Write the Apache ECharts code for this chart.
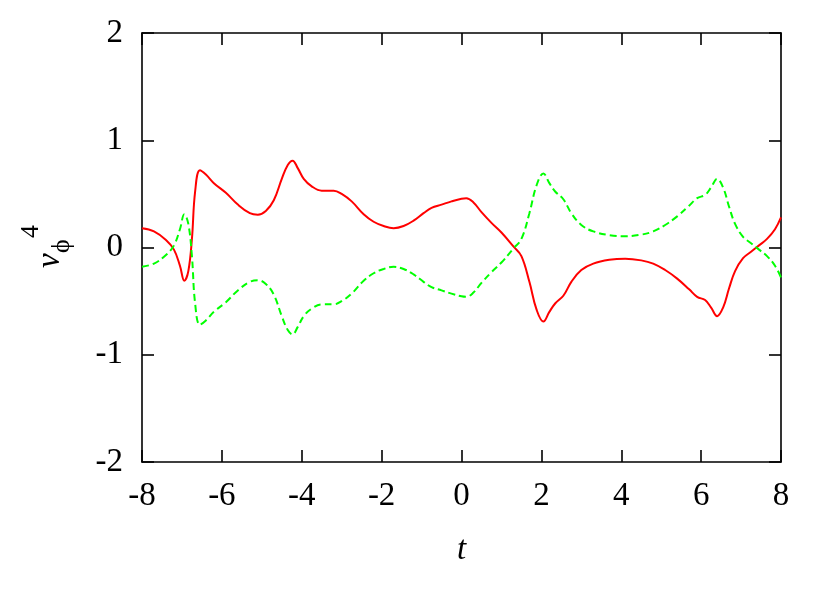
<!DOCTYPE html>
<html>
<head>
<meta charset="utf-8">
<title>v_phi^4</title>
<script src="https://cdn.jsdelivr.net/npm/echarts@6/dist/echarts.min.js"></script>
<style>
  html, body { margin: 0; padding: 0; background: #fff; }
  #chart { width: 830px; height: 594px; }
</style>
</head>
<body>
<div id="chart"></div>
<script>
// sample times
const tValues = [
  -8, -7.7, -7.4, -7.2, -7.05, -6.94, -6.84, -6.75, -6.67, -6.55, -6.4, -6.2,
  -5.9, -5.6, -5.3, -5.1, -4.9, -4.7, -4.5, -4.35, -4.23, -4.1, -3.95, -3.75,
  -3.5, -3.2, -3.0, -2.75, -2.45, -2.2, -1.95, -1.7, -1.45, -1.2, -0.95, -0.75,
  -0.5, -0.25, 0, 0.12, 0.3, 0.5, 0.75, 1.0, 1.3, 1.5, 1.7, 1.88, 2.05, 2.2,
  2.35, 2.55, 2.75, 3.0, 3.3, 3.7, 4.1, 4.5, 4.8, 5.1, 5.4, 5.7, 5.9, 6.1,
  6.25, 6.4, 6.55, 6.7, 6.85, 7.05, 7.25, 7.45, 7.65, 7.85, 8
]

// solid red curve
const redValues = [
  0.18, 0.15, 0.07, -0.02, -0.17, -0.31, -0.22, 0.08, 0.52, 0.72, 0.68, 0.60,
  0.51, 0.40, 0.32, 0.305, 0.34, 0.44, 0.64, 0.77, 0.81, 0.74, 0.64, 0.57,
  0.53, 0.53, 0.50, 0.43, 0.31, 0.24, 0.20, 0.18, 0.20, 0.25, 0.32, 0.37,
  0.40, 0.43, 0.455, 0.46, 0.42, 0.33, 0.23, 0.14, 0.01, -0.08, -0.32, -0.58, -0.69, -0.60,
  -0.52, -0.45, -0.32, -0.21, -0.15, -0.115, -0.105, -0.12, -0.15, -0.21, -0.29, -0.39, -0.46, -0.49,
  -0.56, -0.64, -0.56, -0.38, -0.22, -0.10, -0.04, 0.02, 0.08, 0.17, 0.28
]

// dashed green curve
const greenValues = [
  -0.18, -0.15, -0.07, 0.02, 0.17, 0.31, 0.22, -0.08, -0.52, -0.72, -0.68, -0.60,
  -0.51, -0.40, -0.32, -0.305, -0.34, -0.44, -0.64, -0.77, -0.81, -0.74, -0.64, -0.57,
  -0.53, -0.53, -0.50, -0.43, -0.31, -0.24, -0.20, -0.18, -0.20, -0.25, -0.32, -0.37,
  -0.40, -0.43, -0.455, -0.46, -0.42, -0.33, -0.23, -0.14, -0.01, 0.08, 0.32, 0.58, 0.69, 0.60,
  0.52, 0.45, 0.32, 0.21, 0.15, 0.115, 0.105, 0.12, 0.15, 0.21, 0.29, 0.39, 0.46, 0.49,
  0.56, 0.64, 0.56, 0.38, 0.22, 0.10, 0.04, -0.02, -0.08, -0.17, -0.28
]

const xTicks = [-8, -6, -4, -2, 0, 2, 4, 6, 8]
const yTicks = [-2, -1, 0, 1, 2]

const font = 'Liberation Serif'

const chart = echarts.init(document.getElementById('chart'))

const pairs = vals => tValues.map((t, i) => [t, vals[i]])

const frameLine = { show: true, onZero: false, lineStyle: { color: '#000', width: 1.6 } }
const innerTick = { show: true, inside: true, length: 12, lineStyle: { color: '#000', width: 1.6 } }

chart.setOption({
  animation: false,
  backgroundColor: '#fff',
  grid: { left: 142, right: 49, top: 33, bottom: 132, containLabel: false },
  xAxis: [
    {
      type: 'value',
      min: xTicks[0],
      max: xTicks[xTicks.length - 1],
      interval: 2,
      position: 'bottom',
      axisLine: frameLine,
      axisTick: innerTick,
      splitLine: { show: false },
      axisLabel: { color: '#000', fontFamily: font, fontSize: 33, margin: 18 },
      name: 't',
      nameLocation: 'middle',
      nameGap: 72,
      nameTextStyle: { color: '#000', fontFamily: font, fontSize: 33, fontStyle: 'italic' }
    },
    {
      type: 'value',
      min: xTicks[0],
      max: xTicks[xTicks.length - 1],
      interval: 2,
      position: 'top',
      axisLine: frameLine,
      axisTick: innerTick,
      splitLine: { show: false },
      axisLabel: { show: false }
    }
  ],
  yAxis: [
    {
      type: 'value',
      min: yTicks[0],
      max: yTicks[yTicks.length - 1],
      interval: 1,
      position: 'left',
      axisLine: frameLine,
      axisTick: innerTick,
      splitLine: { show: false },
      axisLabel: { color: '#000', fontFamily: font, fontSize: 33, margin: 19 }
    },
    {
      type: 'value',
      min: yTicks[0],
      max: yTicks[yTicks.length - 1],
      interval: 1,
      position: 'right',
      axisLine: frameLine,
      axisTick: innerTick,
      splitLine: { show: false },
      axisLabel: { show: false }
    }
  ],
  graphic: [
    {
      type: 'group',
      x: 50,
      y: 268,
      rotation: Math.PI / 2,
      children: [
        {
          type: 'text',
          x: 0,
          y: 0,
          style: { text: 'v', font: 'italic 33px "Liberation Serif"', fill: '#000', textAlign: 'left', textVerticalAlign: 'middle' }
        },
        {
          type: 'text',
          x: 15,
          y: 12,
          style: { text: 'ϕ', font: '26px "Liberation Serif"', fill: '#000', textAlign: 'left', textVerticalAlign: 'middle' }
        },
        {
          type: 'text',
          x: 30,
          y: -19,
          style: { text: '4', font: '26px "Liberation Serif"', fill: '#000', textAlign: 'left', textVerticalAlign: 'middle' }
        }
      ]
    }
  ],
  series: [
    {
      name: 'red',
      type: 'line',
      data: pairs(redValues),
      showSymbol: false,
      smooth: 0.4,
      lineStyle: { color: '#ff0000', width: 2 },
      z: 2
    },
    {
      name: 'green',
      type: 'line',
      data: pairs(greenValues),
      showSymbol: false,
      smooth: 0.4,
      lineStyle: { color: '#00ff00', width: 2, type: [7, 4] },
      z: 3
    }
  ]
})
</script>
</body>
</html>
